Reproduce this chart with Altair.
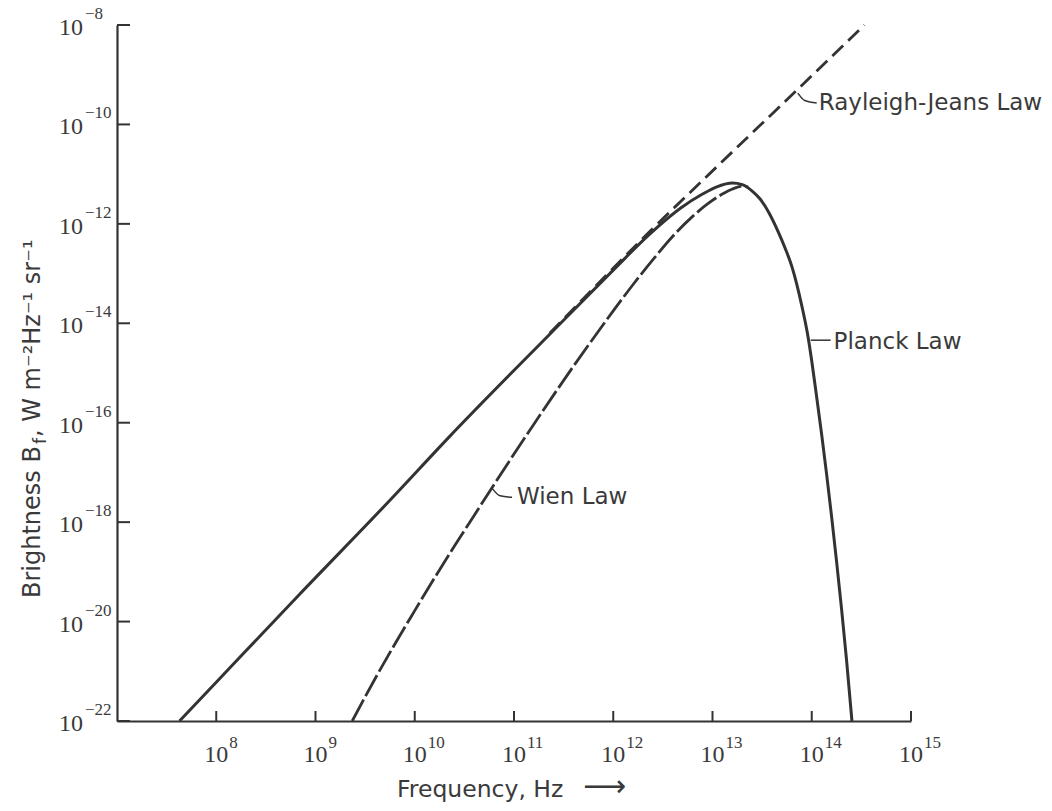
import altair as alt
import pandas as pd

# ---- values (log10 of frequency in Hz, log10 of brightness) ----
planck_logf = [7.63, 8.0, 8.84, 9.75, 10.35, 11.36, 12.0, 12.37, 12.68, 12.9, 13.05, 13.2, 13.3,
               13.4, 13.48, 13.57, 13.66, 13.73, 13.80, 13.85, 13.90, 13.965, 14.00, 14.05, 14.10,
               14.15, 14.20, 14.25, 14.30, 14.35, 14.405]
planck_logB = [-22.0, -21.22, -19.45, -17.56, -16.28, -14.22, -12.93, -12.20, -11.68, -11.40, -11.25,
               -11.18, -11.21, -11.34, -11.50, -11.78, -12.15, -12.48, -12.86, -13.22, -13.65, -14.30,
               -14.76, -15.49, -16.24, -17.04, -17.89, -18.79, -19.74, -20.76, -22.0]

rj_logf = [11.36, 12.37, 13.06, 13.84, 14.53]
rj_logB = [-14.20, -12.15, -10.82, -9.33, -8.0]

wien_logf = [9.37, 9.6, 9.8, 10.0, 10.2, 10.4, 10.6, 10.8, 11.0, 11.2, 11.4, 11.6, 11.8, 12.0, 12.2,
             12.4, 12.6, 12.8, 12.95, 13.1, 13.2, 13.3, 13.36]
wien_logB = [-22.0, -21.15, -20.45, -19.78, -19.12, -18.48, -17.86, -17.24, -16.63, -16.03, -15.44,
             -14.86, -14.30, -13.75, -13.22, -12.72, -12.25, -11.85, -11.60, -11.40, -11.30, -11.24,
             -11.26]

x_tick_exps = [8, 9, 10, 11, 12, 13, 14, 15]
y_tick_exps = [-22, -20, -18, -16, -14, -12, -10, -8]

label_text = ["Rayleigh-Jeans Law", "Planck Law", "Wien Law"]
label_logf = [14.07, 14.22, 11.03]
label_logB = [-9.57, -14.38, -17.50]

leader_id = ["rj", "rj", "rj", "pl", "pl", "wi", "wi", "wi"]
leader_logf = [13.86, 13.93, 14.05, 13.99, 14.19, 10.78, 10.86, 10.98]
leader_logB = [-9.37, -9.52, -9.57, -14.34, -14.34, -17.32, -17.47, -17.50]

x_title = "Frequency, Hz"
y_title_parts = ["Brightness B", "f", " ,  W m⁻²Hz⁻¹ sr⁻¹"]

# ---- layout / style ----
W, H = 794, 696
INK = "#333333"
TXT = "#3a3a3a"
SANS = "DejaVu Sans"
SERIF = "Liberation Serif"

xs = alt.Scale(type="log", domain=[1e7, 1e15], nice=False)
ys = alt.Scale(type="log", domain=[1e-22, 1e-8], nice=False)

xaxis = alt.Axis(values=[10.0 ** e for e in x_tick_exps], labels=False, ticks=False, tickSize=0,
                 title=None, grid=False, domainColor=INK, domainWidth=2.2)
yaxis = alt.Axis(values=[10.0 ** e for e in y_tick_exps], labels=False, ticks=False, tickSize=0,
                 title=None, grid=False, domainColor=INK, domainWidth=2.2)

X = alt.X("f:Q", scale=xs, axis=xaxis)
Y = alt.Y("B:Q", scale=ys, axis=yaxis)


def curve(logf, logB):
    return pd.DataFrame({"f": [10.0 ** v for v in logf], "B": [10.0 ** v for v in logB]})


planck = alt.Chart(curve(planck_logf, planck_logB)).mark_line(
    color=INK, strokeWidth=3, interpolate="monotone").encode(x=X, y=Y)
rj = alt.Chart(curve(rj_logf, rj_logB)).mark_line(
    color=INK, strokeWidth=2.8, strokeDash=[15, 7], interpolate="monotone").encode(x=X, y=Y)
wien = alt.Chart(curve(wien_logf, wien_logB)).mark_line(
    color=INK, strokeWidth=2.8, strokeDash=[24, 4], interpolate="monotone").encode(x=X, y=Y)

# ---- ticks pointing into the plot ----
xt = pd.DataFrame({"f": [10.0 ** e for e in x_tick_exps],
                   "e": [str(e) for e in x_tick_exps]})
yt = pd.DataFrame({"B": [10.0 ** e for e in y_tick_exps],
                   "e": [str(e).replace("-", "\u2212") for e in y_tick_exps]})
xticks = alt.Chart(xt).mark_rule(color=INK, strokeWidth=2).encode(
    x=X, y=alt.value(H), y2=alt.value(H - 10))
yticks = alt.Chart(yt).mark_rule(color=INK, strokeWidth=2).encode(
    y=Y, x=alt.value(0), x2=alt.value(13))

# ---- tick labels: "10" with a raised exponent ----
x_base = alt.Chart(xt).mark_text(align="center", baseline="alphabetic", font=SERIF, fontSize=24,
                                 color=TXT).encode(x=X, y=alt.value(H + 41), text=alt.value("10"))
x_exp = alt.Chart(xt).mark_text(align="left", baseline="alphabetic", font=SERIF, fontSize=17,
                                color=TXT, dx=13).encode(x=X, y=alt.value(H + 27), text="e:N")
y_base = alt.Chart(yt).mark_text(align="right", baseline="alphabetic", font=SERIF, fontSize=24,
                                 color=TXT, dy=10).encode(y=Y, x=alt.value(-34), text=alt.value("10"))
y_exp = alt.Chart(yt).mark_text(align="left", baseline="alphabetic", font=SERIF, fontSize=17,
                                color=TXT, dy=-6).encode(y=Y, x=alt.value(-32), text="e:N")

# ---- curve names and leaders ----
labels_df = pd.DataFrame({"f": [10.0 ** v for v in label_logf], "B": [10.0 ** v for v in label_logB],
                          "t": label_text})
labels = alt.Chart(labels_df).mark_text(
    align="left", baseline="middle", font=SANS, fontSize=23, color=TXT).encode(x=X, y=Y, text="t:N")

leaders_df = pd.DataFrame({"f": [10.0 ** v for v in leader_logf], "B": [10.0 ** v for v in leader_logB],
                           "id": leader_id})
leaders = alt.Chart(leaders_df).mark_line(color=INK, strokeWidth=1.5, interpolate="monotone").encode(
    x=X, y=Y, detail="id:N")

# ---- axis titles ----
xtitle = alt.Chart(pd.DataFrame({"t": [x_title]})).mark_text(
    align="left", baseline="alphabetic", font=SANS, fontSize=23.5, color=TXT).encode(
    text="t:N", x=alt.value(280), y=alt.value(H + 76))
arrow = alt.Chart(pd.DataFrame({"t": ["⟶"]})).mark_text(
    align="left", baseline="alphabetic", font=SANS, fontSize=30, color=TXT).encode(
    text="t:N", x=alt.value(466), y=alt.value(H + 75))

ytitle_df = pd.DataFrame({"t": y_title_parts, "s": [24, 17, 24], "px": [-77, -71, -77],
                          "py": [573, 419, 412]})
ytitle = alt.Chart(ytitle_df).mark_text(
    align="left", baseline="alphabetic", angle=270, font=SANS, color=TXT).encode(
    text="t:N",
    x=alt.X("px:Q", scale=None),
    y=alt.Y("py:Q", scale=None),
    size=alt.Size("s:Q", scale=None, legend=None))

chart = alt.layer(planck, rj, wien, xticks, yticks, x_base, x_exp, y_base, y_exp,
                  leaders, labels, xtitle, arrow, ytitle).properties(
    width=W, height=H,
    padding={"left": 117, "top": 25, "right": 141, "bottom": 90},
    autosize=alt.AutoSizeParams(type="none"),
    background="white",
).configure_view(stroke=None)

chart.save("out.html", embed_options={"renderer": "svg", "actions": False})
